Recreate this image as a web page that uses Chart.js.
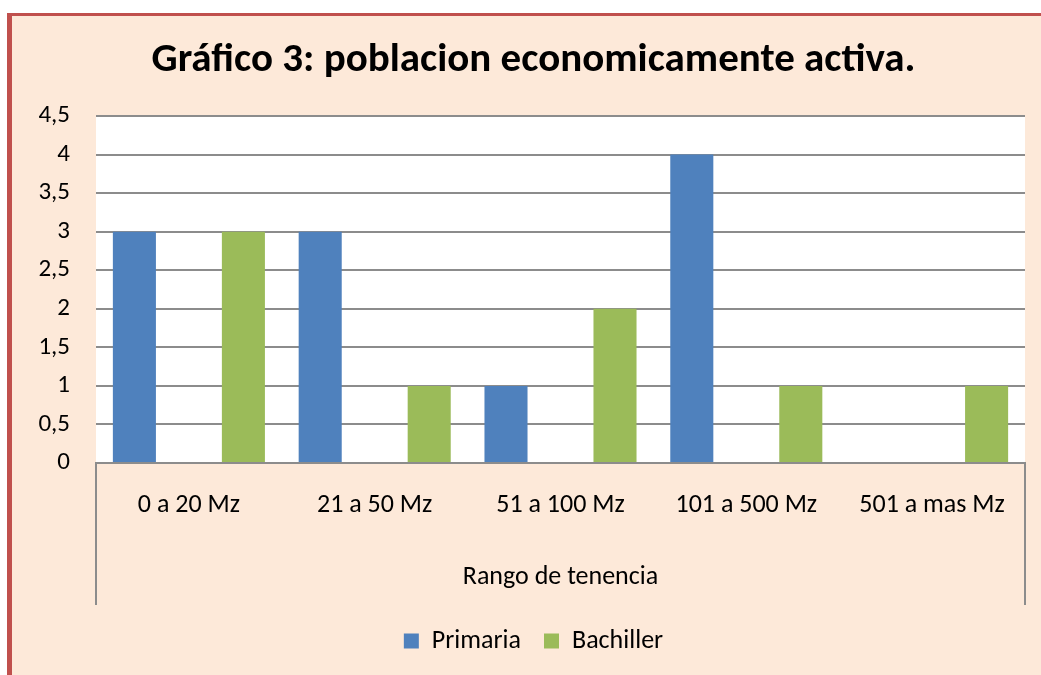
<!DOCTYPE html>
<html>
<head>
<meta charset="utf-8">
<script src="https://cdn.jsdelivr.net/npm/chart.js@4.4.0/dist/chart.umd.min.js"></script>
<style>
  html, body { margin: 0; padding: 0; background: #ffffff; overflow: hidden; }
  #frame {
    position: absolute; left: 7px; top: 13px; width: 1029px; height: 659px;
    background: #fde9d9; border-left: 5px solid #c0504d; border-top: 3px solid #c0504d;
  }
  #wrap { position: absolute; left: 0; top: 0; width: 1071px; height: 675px; }
</style>
</head>
<body>
<div id="frame"></div>
<div id="wrap"><canvas id="chart" width="1071" height="675"></canvas></div>
<script>
// Chart data
const categories = ['0 a 20 Mz', '21 a 50 Mz', '51 a 100 Mz', '101 a 500 Mz', '501 a mas Mz'];
const primaria = [3, 3, 1, 4, 0];
const bachiller = [3, 1, 2, 1, 1];
const emptySeries = [null, null, null, null, null]; // blank middle series in the original
const yTicks = [0, 0.5, 1, 1.5, 2, 2.5, 3, 3.5, 4, 4.5];

const fontFamily = 'Carlito, Calibri, Lato, sans-serif';
const gridColor = '#8c8c8c';

// vertical lines of the multi-level category axis
const axisBoxLines = {
    id: 'axisBoxLines',
    afterDraw(chart) {
        const ctx = chart.ctx;
        const area = chart.chartArea;
        const xs = chart.scales.x;
        ctx.save();
        ctx.strokeStyle = gridColor;
        ctx.lineWidth = 2;
        ctx.beginPath();
        ctx.moveTo(area.left, area.bottom);
        ctx.lineTo(area.left, xs.bottom);
        ctx.moveTo(area.right, area.bottom);
        ctx.lineTo(area.right, xs.bottom);
        ctx.stroke();
        ctx.restore();
    }
};

const plotBg = {
    id: 'plotBg',
    beforeDraw(chart) {
        const ctx = chart.ctx;
        const a = chart.chartArea;
        ctx.save();
        ctx.fillStyle = '#ffffff';
        ctx.fillRect(a.left, a.top, a.right - a.left, a.bottom - a.top);
        ctx.restore();
    }
};

new Chart(document.getElementById('chart'), {
    type: 'bar',
    data: {
        labels: categories,
        datasets: [
            { label: 'Primaria', data: primaria, backgroundColor: '#4f81bd' },
            { label: '', data: emptySeries, backgroundColor: 'rgba(0,0,0,0)' },
            { label: 'Bachiller', data: bachiller, backgroundColor: '#9bbb59' }
        ]
    },
    options: {
        responsive: false,
        animation: false,
        layout: { padding: { left: 12, right: 16, top: 16, bottom: 11 } },
        datasets: { bar: { categoryPercentage: 0.88, barPercentage: 0.79 } },
        plugins: {
            title: {
                display: true,
                text: 'Gráfico 3: poblacion economicamente activa.',
                color: '#000000',
                font: { family: fontFamily, size: 41, weight: 'bold', lineHeight: 1.2 },
                padding: { top: 20, bottom: 30.8 }
            },
            legend: {
                position: 'bottom',
                labels: {
                    filter: item => item.text !== '',
                    color: '#000000',
                    font: { family: fontFamily, size: 26 },
                    boxWidth: 15,
                    boxHeight: 15,
                    padding: 23
                }
            },
            tooltip: { enabled: false }
        },
        scales: {
            x: {
                grid: { display: false, drawTicks: false },
                border: { display: true, color: gridColor, width: 2 },
                ticks: { color: '#000000', font: { family: fontFamily, size: 26 }, padding: 27, maxRotation: 0 },
                title: {
                    display: true,
                    text: 'Rango de tenencia',
                    color: '#000000',
                    font: { family: fontFamily, size: 26, lineHeight: 1.2 },
                    padding: { top: 0, bottom: 12 }
                },
                afterFit(scale) { scale.height = 142; }
            },
            y: {
                min: 0,
                max: 4.5,
                afterBuildTicks(scale) { scale.ticks = yTicks.map(v => ({ value: v })); },
                grid: { color: gridColor, lineWidth: 2, drawTicks: false },
                border: { display: false },
                ticks: {
                    color: '#000000',
                    font: { family: fontFamily, size: 25 },
                    padding: 26,
                    callback: v => String(v).replace('.', ',')
                },
                afterFit(scale) { scale.width = 84; }
            },
            // empty right-hand axis, only reserves space off-screen
            yRight: {
                position: 'right',
                grid: { display: false, drawTicks: false },
                border: { display: false },
                ticks: { display: false },
                afterFit(scale) { scale.width = 30; }
            }
        }
    },
    plugins: [plotBg, axisBoxLines]
});
</script>
</body>
</html>
